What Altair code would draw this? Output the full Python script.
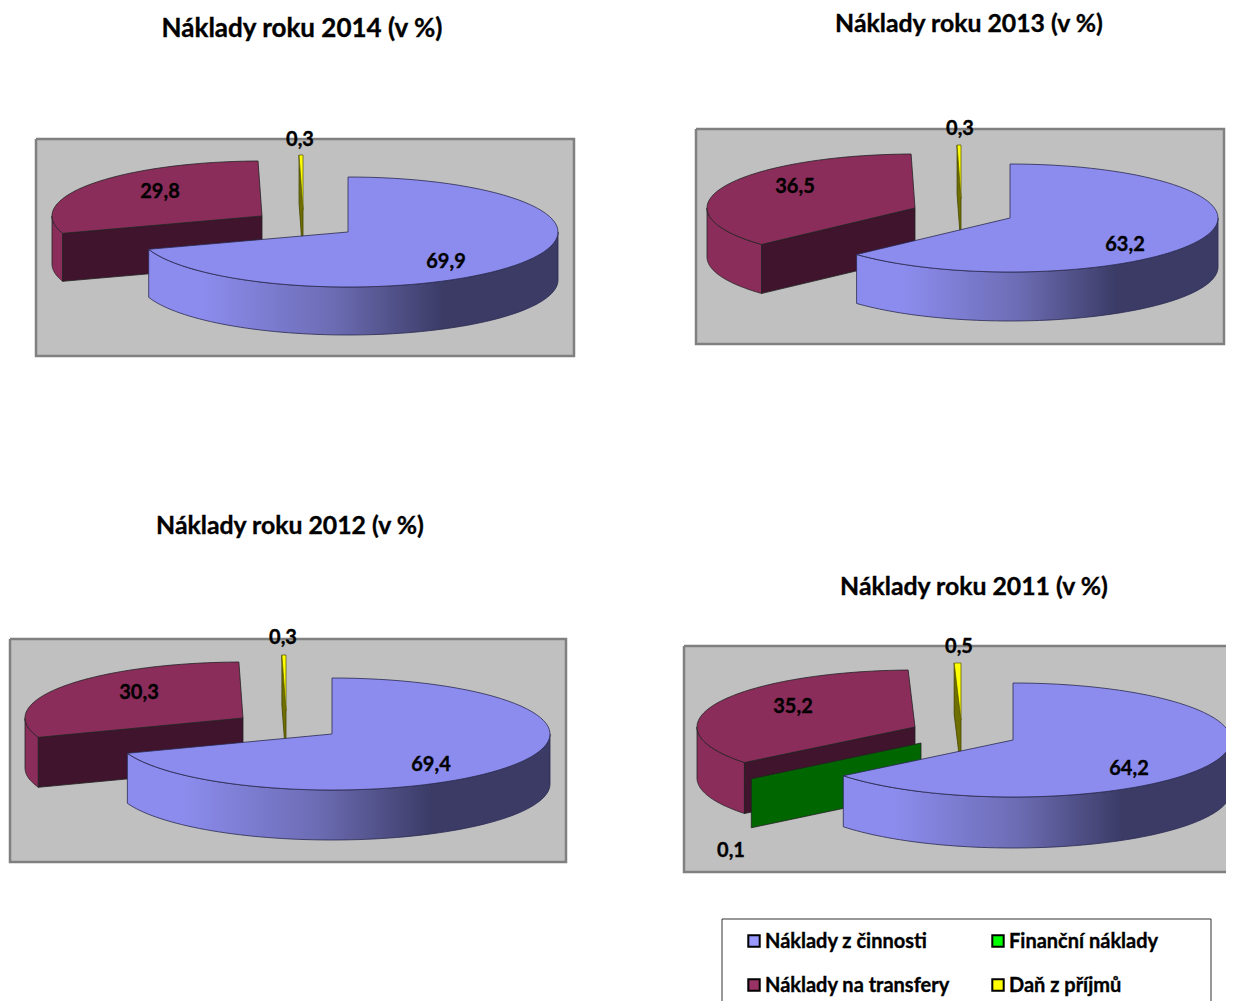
import numpy as np
import pandas as pd
import altair as alt

# ---- values ----
years = [2014, 2013, 2012, 2011]
cost_activity = [69.9, 63.2, 69.4, 64.2]
cost_financial = [0.0, 0.0, 0.0, 0.1]
cost_transfers = [29.8, 36.5, 30.3, 35.2]
cost_tax = [0.3, 0.3, 0.3, 0.5]
legend_labels = ["Náklady z činnosti", "Náklady na transfery", "Finanční náklady", "Daň z příjmů"]

# ---- layout (page pixels) ----
W, H = 1226, 1001
LAYOUT = {
    2014: dict(panel=(36, 139, 574, 356), c=(348, 232), r=(210, 55), d=48,
               purple=(262, 216), yellow=(303, 210), green=None,
               title=(302, 27, 26),
               labels=[("69,9", "a", 446, 260), ("29,8", "t", 160, 190), ("0,3", "x", 300, 138)]),
    2013: dict(panel=(696, 129, 1224, 344), c=(1010, 218), r=(208, 54), d=49,
               purple=(915, 208), yellow=(961, 199), green=None,
               title=(969, 23, 24.8),
               labels=[("63,2", "a", 1125, 243), ("36,5", "t", 795, 185), ("0,3", "x", 960, 127)]),
    2012: dict(panel=(10, 639, 566, 862), c=(332, 734), r=(218, 56), d=50,
               purple=(243, 718), yellow=(286, 711), green=None,
               title=(290, 525, 24.8),
               labels=[("69,4", "a", 431, 763), ("30,3", "t", 139, 691), ("0,3", "x", 283, 636)]),
    2011: dict(panel=(684, 646, 1250, 872), c=(1013, 740), r=(218, 57), d=51,
               purple=(915, 727), yellow=(961, 720), green=(921, 743),
               title=(974, 586, 24.8),
               labels=[("64,2", "a", 1129, 767), ("35,2", "t", 793, 705), ("0,5", "x", 959, 645), ("0,1", "f", 731, 849)]),
}
FONT = "Lato"
BLUE, BLUE_EDGE = "#8c8cee", "#2a2a50"
PURPLE, PURPLE_DARK = "#8b2d5b", "#3f142c"
GREEN = "#006600"
YELLOW, OLIVE = "#ffff00", "#6f6f00"
PANEL, PANEL_EDGE = "#c0c0c0", "#808080"
BLUE_WALL = {"gradient": "linear", "x1": 0, "x2": 1, "y1": 0, "y2": 0, "stops": [
    {"offset": 0.13, "color": "#8c8cee"}, {"offset": 0.45, "color": "#6c6cb4"},
    {"offset": 0.72, "color": "#3b3b66"}, {"offset": 1.0, "color": "#3b3b66"}]}

X = alt.X("x:Q", scale=alt.Scale(domain=[8, W], nice=False, zero=False), axis=None)
Y = alt.Y("y:Q", scale=alt.Scale(domain=[H, 8], nice=False, zero=False), axis=None)


def rim(c, r, a0, a1, n=80):
    a = np.radians(np.linspace(a0, a1, n))
    return c[0] + r[0] * np.sin(a), c[1] - r[1] * np.cos(a)


def shape(xs, ys, fill, stroke="#222222", sw=0.8):
    df = pd.DataFrame({"x": np.round(xs, 2), "y": np.round(ys, 2), "o": range(len(xs))})
    return alt.Chart(df).mark_line(fill=fill, stroke=stroke, strokeWidth=sw, clip=True, interpolate="linear").encode(
        x=X, y=Y, order="o:Q")


def top_face(c, r, a0, a1, fill, stroke="#222222"):
    x, y = rim(c, r, a0, a1)
    return shape([c[0], *x, c[0]], [c[1], *y, c[1]], fill, stroke)


def wall(c, r, d, a0, a1, fill, stroke="#222222"):
    a0, a1 = max(a0, 90), min(a1, 270)
    if a1 <= a0:
        return []
    x, y = rim(c, r, a0, a1)
    return [shape([*x, *x[::-1], x[0]], [*y, *(y[::-1] + d), y[0]], fill, stroke)]


def radial(c, r, d, a, fill, stroke="#222222"):
    x, y = rim(c, r, a, a, 1)
    return shape([c[0], x[0], x[0], c[0], c[0]], [c[1], y[0], y[0] + d, c[1] + d, c[1]], fill, stroke)


def text(x, y, s, size):
    return alt.Chart(pd.DataFrame({"x": [x], "y": [y], "t": [s]})).mark_text(
        font=FONT, fontWeight="bold", fontSize=size, color="#000000", stroke="#000000", strokeWidth=0.35,
        align="center", baseline="middle", dy=2).encode(
        x=X, y=Y, text="t:N")


layers = []
for i, yr in enumerate(years):
    L = LAYOUT[yr]
    x0, y0, x1, y1 = L["panel"]
    r, d = L["r"], L["d"]
    layers.append(shape([x0, x1, x1, x0, x0], [y0, y0, y1, y1, y0], PANEL, PANEL_EDGE, 2.5))
    a_blue = cost_activity[i] * 3.6
    a_green = a_blue + cost_financial[i] * 3.6
    a_purple = a_green + cost_transfers[i] * 3.6
    a_yellow = a_purple + cost_tax[i] * 3.6
    # tax sliver
    layers.append(radial(L["yellow"], r, d, a_purple, OLIVE, "#444400"))
    layers.append(top_face(L["yellow"], r, a_purple, a_yellow, YELLOW, "#666600"))
    # transfers
    layers += wall(L["purple"], r, d, a_green, a_purple, PURPLE)
    layers.append(radial(L["purple"], r, d, a_green, PURPLE_DARK))
    layers.append(top_face(L["purple"], r, a_green, a_purple, PURPLE))
    # financial
    if L["green"]:
        layers.append(radial(L["green"], r, d - 2, a_blue, GREEN))
    # activity
    layers += wall(L["c"], r, d, 90, a_blue, BLUE_WALL, BLUE_EDGE)
    layers.append(top_face(L["c"], r, 0, a_blue, BLUE, BLUE_EDGE))
    tx, ty, ts = L["title"]
    layers.append(text(tx, ty, f"Náklady roku {yr} (v %)", ts))
    for s, _, lx, ly in L["labels"]:
        layers.append(text(lx, ly, s, 20))

# legend box: its bottom edge falls outside the page
layers.append(shape([722, 722, 1211, 1211], [H + 6, 919, 919, H + 6], "#ffffff", "#333333", 1))
leg = pd.DataFrame({
    "x": [754, 754, 998, 998], "y": [941, 985, 941, 985], "t": legend_labels,
    "c": ["#9999ff", "#993366", "#00ff00", "#ffff00"],
    "tx": [765, 765, 1009, 1009]})
layers.append(alt.Chart(leg).mark_square(size=130, stroke="#000000", strokeWidth=2, opacity=1).encode(
    x=X, y=Y, fill=alt.Fill("c:N", scale=None)))
layers.append(alt.Chart(leg).mark_text(font=FONT, fontWeight="bold", fontSize=20, color="#000000",
                                       stroke="#000000", strokeWidth=0.35,
                                       align="left", baseline="middle", dy=1).encode(
    x=alt.X("tx:Q", scale=alt.Scale(domain=[8, W], nice=False, zero=False), axis=None), y=Y, text="t:N"))

chart = alt.layer(*layers).properties(
    width=W - 8, height=H - 8, padding=0, background="#ffffff",
    autosize=alt.AutoSizeParams(type="none")
).configure_view(stroke=None)

chart.save("out.html", embed_options={"renderer": "svg", "actions": False})
